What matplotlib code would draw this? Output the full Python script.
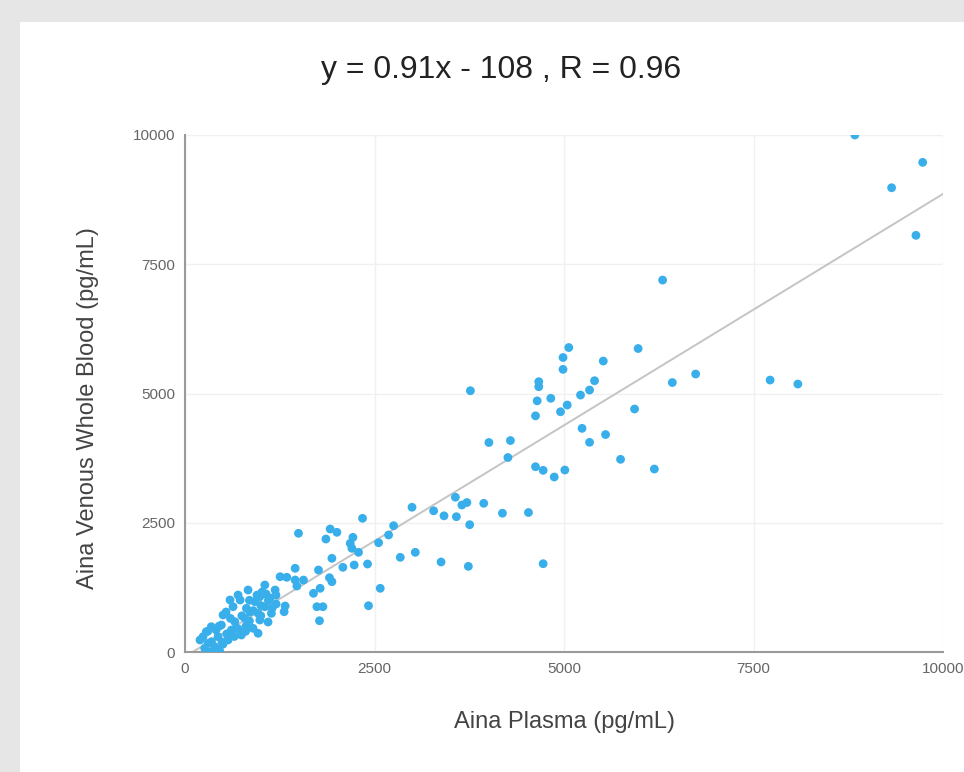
import matplotlib.pyplot as plt
from matplotlib.patches import Rectangle

# Aina plasma vs venous whole blood (pg/mL)
plasma = [
    8837, 9732, 9322, 9643, 6301, 5978, 5518, 6429, 6737, 7719, 8085, 5931,
    5063, 4987, 4987, 4667, 4667, 5403, 4646, 4826, 5337, 5218, 5042, 4954,
    4624, 5238, 5548, 5337, 5746, 6192, 4624, 4725, 4871, 5011, 3765, 4009,
    4293, 4260, 3567, 3653, 3719, 3941, 2995, 3280, 3417, 3580, 3756, 4188,
    4531, 2840, 3038, 3378, 3738, 4725,
    2342, 1497, 1915, 2004, 1859, 2215, 2180, 2202, 2289, 2752, 2686, 2554,
    1938, 2083, 2232, 2408, 1761, 1453, 1255, 1343, 1453, 1476, 1563, 1906,
    1938, 1783, 1695, 2576, 1740, 1819, 2421, 1774, 1321, 1308,
    1053, 700, 987, 921, 634, 810, 1053, 1140, 964, 502, 789, 987, 657, 480,
    347, 898, 612, 964, 281, 238, 436, 744, 568, 304, 392, 260, 458, 347,
    727, 859, 542, 1123, 1189, 1017, 832, 674, 489, 806, 1096, 1202, 1070,
    594, 410, 198,
    450, 600, 750, 900, 1000, 550, 700, 850, 1000, 350, 650, 800, 1100, 950,
    1150, 500, 400, 300, 850, 1200,
]
whole_blood = [
    10000, 9471, 8980, 8059, 7194, 5870, 5628, 5212, 5377, 5260, 5183, 4700,
    5889, 5696, 5467, 5228, 5131, 5247, 4858, 4907, 5067, 4970, 4777, 4647,
    4568, 4326, 4206, 4056, 3727, 3539, 3584, 3514, 3385, 3520, 5054, 4052,
    4090, 3762, 2994, 2843, 2891, 2876, 2800, 2731, 2634, 2617, 2462, 2684,
    2698, 1831, 1928, 1741, 1657, 1708,
    2586, 2296, 2379, 2315, 2185, 2218, 2102, 2006, 1928, 2443, 2263, 2114,
    1812, 1638, 1683, 1702, 1586, 1619, 1456, 1445, 1392, 1276, 1392, 1437,
    1360, 1232, 1135, 1232, 876, 876, 895, 605, 890, 779,
    1296, 1102, 1070, 973, 876, 845, 876, 748, 748, 716, 652, 619, 586, 522,
    489, 458, 425, 362, 393, 296, 296, 329, 232, 168, 103, 72, 19, 6,
    1006, 774, 774, 1044, 1199, 1160, 1199, 464, 193, 503, 580, 928, 1122,
    1006, 425, 232,
    500, 650, 700, 800, 900, 350, 450, 600, 700, 200, 300, 400, 1000, 1100,
    850, 150, 50, 400, 1000, 1100,
]

# trend line as drawn in the reference
fit_slope = 0.895
fit_intercept = -90
fit_x = [0, 10000]

ticks = [0, 2500, 5000, 7500, 10000]

W, H = 964, 772
fig = plt.figure(figsize=(W / 100, H / 100), dpi=100)
fig.patch.set_facecolor('#e6e6e6')
fig.patches.append(Rectangle((20 / W, 0), 1, 1 - 22 / H, transform=fig.transFigure,
                             facecolor='white', edgecolor='none', zorder=-5))

ax = fig.add_axes([185 / W, 120 / H, 758 / W, 517 / H])
ax.set_facecolor('white')

ax.plot(fit_x, [fit_slope * v + fit_intercept for v in fit_x],
        color='#c4c4c4', lw=1.4, zorder=2)
ax.scatter(plasma, whole_blood, s=40, color='#38aeea', edgecolors='none', zorder=3)

ax.set_xlim(0, 10000)
ax.set_ylim(0, 10000)
ax.set_xticks(ticks)
ax.set_yticks(ticks)
ax.set_xticklabels([str(t) for t in ticks])
ax.set_yticklabels([str(t) for t in ticks])
ax.grid(True, color='#f0f0f0', lw=1)
ax.set_axisbelow(True)
for side in ['top', 'right']:
    ax.spines[side].set_visible(False)
for side in ['left', 'bottom']:
    ax.spines[side].set_color('#9a9a9a')
    ax.spines[side].set_linewidth(1.5)
ax.tick_params(axis='both', length=0, labelsize=11, labelcolor='#666666',
               pad=7)
for lab in ax.get_xticklabels() + ax.get_yticklabels():
    lab.set_fontfamily('Liberation Sans')

fig.text(501 / W, 1 - 70 / H, 'y = 0.91x - 108 , R = 0.96', ha='center', va='center',
         fontsize=23, color='#222222', family='Liberation Sans')
fig.text(564 / W, 1 - 722 / H, 'Aina Plasma (pg/mL)', ha='center', va='center',
         fontsize=17, color='#444444', family='Liberation Sans')
fig.text(88 / W, 1 - 408 / H, 'Aina Venous Whole Blood (pg/mL)', ha='center', va='center',
         rotation=90, fontsize=17, color='#444444', family='Liberation Sans')

fig.savefig('out.png', dpi=100)
